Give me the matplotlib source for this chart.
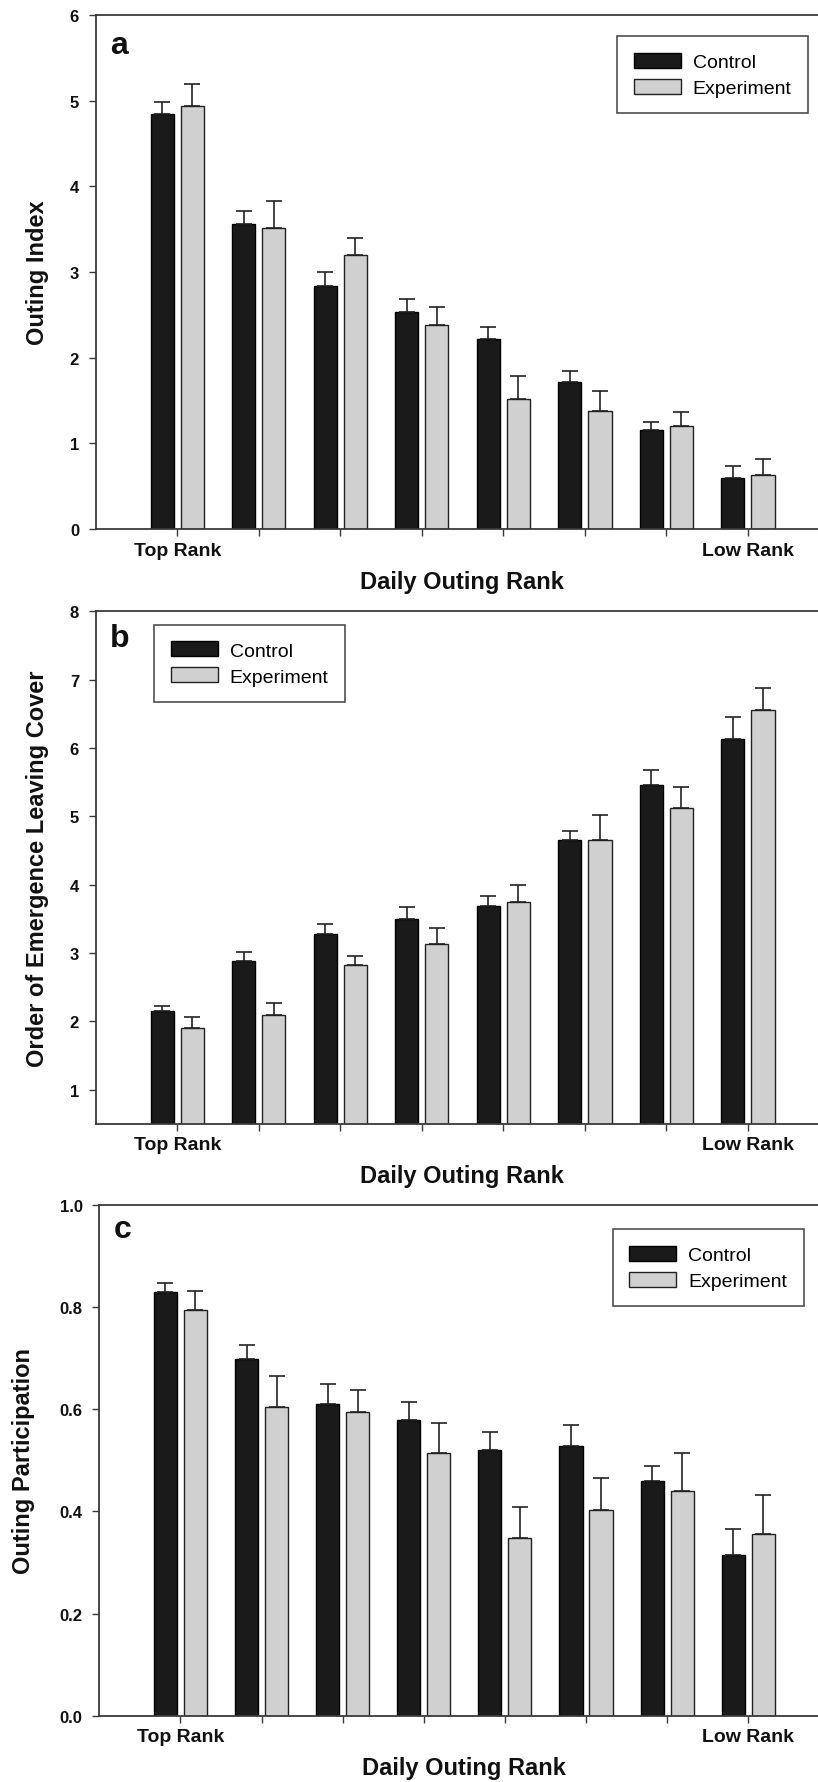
import numpy as np
import matplotlib
matplotlib.use("Agg")
import matplotlib.pyplot as plt
from matplotlib.ticker import FormatStrFormatter

plt.rcParams['font.family'] = ['Liberation Sans', 'DejaVu Sans']

# group order: top rank -> low rank
groups = np.arange(8)
rank_labels = ['Top Rank', '', '', '', '', '', '', 'Low Rank']
series_names = ['Control', 'Experiment']

# panel a: outing index (mean, upper SE)
a_ctrl = [4.85, 3.56, 2.84, 2.53, 2.22, 1.72, 1.16, 0.60]
a_ctrl_err = [0.13, 0.15, 0.16, 0.15, 0.14, 0.13, 0.09, 0.13]
a_exp = [4.94, 3.51, 3.20, 2.38, 1.52, 1.38, 1.20, 0.63]
a_exp_err = [0.25, 0.32, 0.20, 0.21, 0.27, 0.23, 0.17, 0.19]

# panel b: order of emergence leaving cover
b_ctrl = [2.15, 2.88, 3.28, 3.50, 3.69, 4.65, 5.46, 6.13]
b_ctrl_err = [0.07, 0.13, 0.14, 0.18, 0.15, 0.13, 0.22, 0.32]
b_exp = [1.91, 2.10, 2.82, 3.14, 3.75, 4.65, 5.12, 6.56]
b_exp_err = [0.15, 0.17, 0.14, 0.22, 0.24, 0.37, 0.31, 0.32]

# panel c: outing participation
c_ctrl = [0.829, 0.699, 0.611, 0.579, 0.521, 0.528, 0.460, 0.315]
c_ctrl_err = [0.018, 0.027, 0.039, 0.036, 0.035, 0.041, 0.028, 0.051]
c_exp = [0.795, 0.605, 0.595, 0.514, 0.348, 0.402, 0.440, 0.356]
c_exp_err = [0.037, 0.060, 0.043, 0.059, 0.061, 0.064, 0.075, 0.077]

W, H = 818, 1783
fig = plt.figure(figsize=(W / 100, H / 100), dpi=100)

BLACK = '#1a1a1a'
GRAY = '#d0d0d0'
SPINE = '#3a3a3a'
bar_w = 0.285
off = 0.185


def draw_panel(rect, ctrl, ctrl_err, exp, exp_err, ylim, yticks, yfmt,
               ylabel, letter, letter_y, ylabel_x, leg_xy):
    ax = fig.add_axes(rect)
    ax.bar(groups - off, ctrl, bar_w, color=BLACK, edgecolor='black',
           linewidth=1, label=series_names[0], zorder=2)
    ax.bar(groups + off, exp, bar_w, color=GRAY, edgecolor='#222222',
           linewidth=1, label=series_names[1], zorder=2)
    zeros = np.zeros(len(groups))
    ax.errorbar(groups - off, ctrl, yerr=[zeros, ctrl_err], fmt='none',
                ecolor='#222222', elinewidth=1.2, capsize=5.8, capthick=1.2, zorder=3)
    ax.errorbar(groups + off, exp, yerr=[zeros, exp_err], fmt='none',
                ecolor='#222222', elinewidth=1.2, capsize=5.8, capthick=1.2, zorder=3)

    ax.set_xlim(-1.0, 7.86)
    ax.set_ylim(*ylim)
    ax.set_yticks(yticks)
    if yfmt:
        ax.yaxis.set_major_formatter(FormatStrFormatter(yfmt))
    ax.set_xticks(groups)
    ax.set_xticklabels(rank_labels, fontsize=14, fontweight='bold')
    for lab in ax.get_yticklabels():
        lab.set_fontweight('bold')
        lab.set_fontsize(12)
    ax.tick_params(axis='y', direction='out', length=5, width=1, pad=7, colors=SPINE,
                   labelcolor='#111111')
    ax.tick_params(axis='x', direction='out', length=5, width=1, pad=4, colors=SPINE,
                   labelcolor='#111111')

    ax.spines['right'].set_visible(False)
    for s in ['left', 'top', 'bottom']:
        ax.spines[s].set_color(SPINE)
        ax.spines[s].set_linewidth(1.3)

    ax.set_ylabel(ylabel, fontsize=17, fontweight='bold', color='#111111')
    ax.yaxis.set_label_coords(ylabel_x, 0.5)
    ax.set_xlabel('Daily Outing Rank', fontsize=17, fontweight='bold', color='#111111')
    ax.xaxis.set_label_coords(0.507, -52 / (rect[3] * H))
    ax.xaxis.label.set_va('center')

    ax.text(0.02, letter_y, letter, transform=ax.transAxes, fontsize=23,
            fontweight='bold', va='baseline', ha='left', color='#111111')

    leg = ax.legend(loc='upper left', bbox_to_anchor=leg_xy,
                    bbox_transform=fig.transFigure, borderaxespad=0,
                    fontsize=14, frameon=True, fancybox=False, shadow=False,
                    handlelength=2.42, handleheight=0.82, handletextpad=0.62,
                    borderpad=0.85, labelspacing=0.4)
    leg.get_frame().set_edgecolor('#222222')
    leg.get_frame().set_linewidth(1.2)
    return ax


draw_panel([95.7 / W, 1 - 530 / H, (W - 95.7) / W, 514 / H],
           a_ctrl, a_ctrl_err, a_exp, a_exp_err,
           (0, 6), range(0, 7), None, 'Outing Index', 'a', 0.927, -0.065,
           (617 / W, 1 - 37 / H))

draw_panel([95.7 / W, 1 - 1125 / H, (W - 95.7) / W, 512.7 / H],
           b_ctrl, b_ctrl_err, b_exp, b_exp_err,
           (0.5, 8), range(1, 9), None, 'Order of Emergence Leaving Cover', 'b',
           0.933, -0.065, (154 / W, 1 - 625.7 / H))

draw_panel([99.3 / W, 1 - 1716.7 / H, (W - 99.3) / W, 510.7 / H],
           c_ctrl, c_ctrl_err, c_exp, c_exp_err,
           (0, 1.0), np.arange(0, 1.01, 0.2), '%.1f', 'Outing Participation', 'c',
           0.937, -0.09, (612.7 / W, 1 - 1230 / H))

fig.savefig('out.png', dpi=100)
